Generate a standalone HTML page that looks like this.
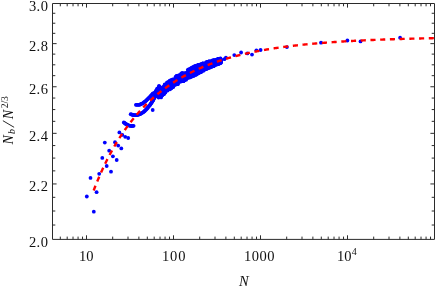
<!DOCTYPE html>
<html><head><meta charset="utf-8"><title>plot</title>
<style>html,body{margin:0;padding:0;background:#fff;width:436px;height:287px;overflow:hidden;font-family:"Liberation Serif",serif}</style>
</head><body>
<svg width="436" height="287" viewBox="0 0 436 287" style="position:absolute;left:0;top:0;will-change:transform">
<rect width="436" height="287" fill="#fff"/>
<g fill="#0000ff"><circle cx="86.8" cy="196.5" r="1.9"/><circle cx="93.8" cy="211.7" r="1.9"/><circle cx="90.5" cy="177.9" r="1.9"/><circle cx="96.6" cy="192.2" r="1.9"/><circle cx="99.2" cy="173.8" r="1.9"/><circle cx="102.3" cy="157.9" r="1.9"/><circle cx="106.7" cy="166.0" r="1.9"/><circle cx="111.0" cy="171.7" r="1.9"/><circle cx="109.2" cy="150.7" r="1.9"/><circle cx="112.9" cy="156.3" r="1.9"/><circle cx="116.7" cy="160.0" r="1.9"/><circle cx="104.8" cy="142.6" r="1.9"/><circle cx="115.0" cy="142.2" r="1.9"/><circle cx="118.2" cy="145.6" r="1.9"/><circle cx="121.3" cy="148.4" r="1.9"/><circle cx="119.4" cy="132.4" r="1.9"/><circle cx="122.3" cy="134.9" r="1.9"/><circle cx="125.2" cy="136.8" r="1.9"/><circle cx="128.2" cy="138.0" r="1.9"/><circle cx="152.7" cy="110.0" r="1.9"/><circle cx="135.9" cy="104.8" r="1.9"/><circle cx="136.8" cy="104.8" r="1.9"/><circle cx="137.7" cy="104.8" r="1.9"/><circle cx="138.6" cy="104.8" r="1.9"/><circle cx="139.5" cy="104.8" r="1.9"/><circle cx="140.3" cy="104.4" r="1.9"/><circle cx="141.1" cy="104.0" r="1.9"/><circle cx="142.0" cy="103.6" r="1.9"/><circle cx="142.8" cy="103.3" r="1.9"/><circle cx="143.5" cy="102.7" r="1.9"/><circle cx="144.2" cy="102.2" r="1.9"/><circle cx="144.9" cy="101.6" r="1.9"/><circle cx="145.6" cy="101.1" r="1.9"/><circle cx="146.3" cy="100.5" r="1.9"/><circle cx="146.9" cy="99.8" r="1.9"/><circle cx="147.6" cy="99.2" r="1.9"/><circle cx="148.2" cy="98.6" r="1.9"/><circle cx="148.8" cy="97.9" r="1.9"/><circle cx="149.5" cy="97.3" r="1.9"/><circle cx="150.1" cy="96.6" r="1.9"/><circle cx="150.7" cy="96.0" r="1.9"/><circle cx="151.4" cy="95.3" r="1.9"/><circle cx="151.9" cy="94.7" r="1.9"/><circle cx="152.5" cy="94.0" r="1.9"/><circle cx="153.1" cy="93.3" r="1.9"/><circle cx="130.7" cy="114.2" r="1.9"/><circle cx="131.6" cy="114.5" r="1.9"/><circle cx="132.4" cy="114.8" r="1.9"/><circle cx="133.3" cy="115.0" r="1.9"/><circle cx="134.2" cy="115.2" r="1.9"/><circle cx="135.1" cy="115.2" r="1.9"/><circle cx="136.0" cy="115.2" r="1.9"/><circle cx="136.9" cy="115.2" r="1.9"/><circle cx="137.7" cy="114.9" r="1.9"/><circle cx="138.6" cy="114.6" r="1.9"/><circle cx="139.4" cy="114.3" r="1.9"/><circle cx="140.3" cy="114.0" r="1.9"/><circle cx="141.0" cy="113.6" r="1.9"/><circle cx="141.8" cy="113.1" r="1.9"/><circle cx="142.6" cy="112.6" r="1.9"/><circle cx="143.3" cy="112.2" r="1.9"/><circle cx="144.0" cy="111.6" r="1.9"/><circle cx="144.7" cy="111.0" r="1.9"/><circle cx="145.3" cy="110.3" r="1.9"/><circle cx="145.9" cy="109.7" r="1.9"/><circle cx="146.6" cy="109.0" r="1.9"/><circle cx="147.2" cy="108.4" r="1.9"/><circle cx="147.7" cy="107.7" r="1.9"/><circle cx="148.3" cy="107.0" r="1.9"/><circle cx="148.9" cy="106.3" r="1.9"/><circle cx="149.5" cy="105.6" r="1.9"/><circle cx="150.0" cy="104.9" r="1.9"/><circle cx="150.5" cy="104.2" r="1.9"/><circle cx="151.0" cy="103.4" r="1.9"/><circle cx="151.5" cy="102.7" r="1.9"/><circle cx="152.1" cy="101.9" r="1.9"/><circle cx="152.5" cy="101.2" r="1.9"/><circle cx="153.0" cy="100.4" r="1.9"/><circle cx="153.4" cy="99.6" r="1.9"/><circle cx="153.9" cy="98.8" r="1.9"/><circle cx="154.3" cy="98.1" r="1.9"/><circle cx="154.7" cy="97.2" r="1.9"/><circle cx="155.1" cy="96.4" r="1.9"/><circle cx="155.5" cy="95.6" r="1.9"/><circle cx="123.8" cy="122.4" r="1.9"/><circle cx="124.5" cy="122.9" r="1.9"/><circle cx="125.2" cy="123.5" r="1.9"/><circle cx="125.9" cy="124.0" r="1.9"/><circle cx="126.7" cy="124.5" r="1.9"/><circle cx="127.5" cy="124.9" r="1.9"/><circle cx="128.3" cy="125.2" r="1.9"/><circle cx="129.2" cy="125.6" r="1.9"/><circle cx="130.1" cy="125.8" r="1.9"/><circle cx="130.9" cy="125.9" r="1.9"/><circle cx="131.8" cy="126.1" r="1.9"/><circle cx="132.7" cy="125.9" r="1.9"/><circle cx="133.6" cy="125.8" r="1.9"/><circle cx="158.6" cy="93.7" r="1.9"/><circle cx="158.0" cy="90.8" r="1.9"/><circle cx="155.0" cy="92.6" r="1.9"/><circle cx="162.1" cy="94.8" r="1.9"/><circle cx="157.1" cy="88.8" r="1.9"/><circle cx="161.6" cy="92.2" r="1.9"/><circle cx="157.8" cy="95.2" r="1.9"/><circle cx="161.6" cy="92.2" r="1.9"/><circle cx="155.9" cy="94.6" r="1.9"/><circle cx="162.5" cy="91.7" r="1.9"/><circle cx="160.4" cy="89.3" r="1.9"/><circle cx="156.6" cy="93.4" r="1.9"/><circle cx="157.8" cy="89.3" r="1.9"/><circle cx="162.7" cy="94.2" r="1.9"/><circle cx="160.8" cy="94.7" r="1.9"/><circle cx="157.0" cy="93.9" r="1.9"/><circle cx="160.3" cy="89.4" r="1.9"/><circle cx="158.4" cy="92.5" r="1.9"/><circle cx="161.9" cy="90.0" r="1.9"/><circle cx="162.5" cy="95.0" r="1.9"/><circle cx="161.8" cy="95.5" r="1.9"/><circle cx="160.8" cy="93.4" r="1.9"/><circle cx="155.3" cy="94.2" r="1.9"/><circle cx="157.0" cy="90.3" r="1.9"/><circle cx="156.8" cy="91.8" r="1.9"/><circle cx="160.9" cy="91.9" r="1.9"/><circle cx="163.1" cy="88.6" r="1.9"/><circle cx="157.1" cy="93.5" r="1.9"/><circle cx="156.2" cy="92.9" r="1.9"/><circle cx="160.5" cy="94.9" r="1.9"/><circle cx="159.4" cy="95.9" r="1.9"/><circle cx="158.0" cy="88.4" r="1.9"/><circle cx="161.7" cy="90.9" r="1.9"/><circle cx="159.0" cy="92.8" r="1.9"/><circle cx="158.4" cy="91.6" r="1.9"/><circle cx="159.7" cy="89.4" r="1.9"/><circle cx="159.5" cy="87.7" r="1.9"/><circle cx="161.6" cy="91.3" r="1.9"/><circle cx="159.1" cy="86.6" r="1.9"/><circle cx="159.6" cy="93.8" r="1.9"/><circle cx="155.8" cy="93.5" r="1.9"/><circle cx="162.2" cy="90.5" r="1.9"/><circle cx="158.7" cy="96.0" r="1.9"/><circle cx="160.4" cy="88.8" r="1.9"/><circle cx="162.8" cy="87.3" r="1.9"/><circle cx="156.5" cy="94.5" r="1.9"/><circle cx="161.1" cy="88.0" r="1.9"/><circle cx="161.3" cy="91.8" r="1.9"/><circle cx="160.2" cy="92.2" r="1.9"/><circle cx="163.3" cy="89.2" r="1.9"/><circle cx="162.5" cy="87.8" r="1.9"/><circle cx="159.5" cy="86.7" r="1.9"/><circle cx="160.5" cy="89.6" r="1.9"/><circle cx="155.8" cy="90.8" r="1.9"/><circle cx="158.9" cy="87.3" r="1.9"/><circle cx="157.5" cy="93.0" r="1.9"/><circle cx="158.0" cy="90.0" r="1.9"/><circle cx="162.1" cy="90.2" r="1.9"/><circle cx="160.1" cy="92.0" r="1.9"/><circle cx="158.3" cy="88.0" r="1.9"/><circle cx="157.0" cy="92.7" r="1.9"/><circle cx="157.2" cy="88.9" r="1.9"/><circle cx="162.9" cy="91.5" r="1.9"/><circle cx="159.0" cy="94.3" r="1.9"/><circle cx="158.9" cy="88.7" r="1.9"/><circle cx="163.1" cy="87.1" r="1.9"/><circle cx="156.3" cy="90.8" r="1.9"/><circle cx="157.1" cy="91.4" r="1.9"/><circle cx="162.1" cy="91.7" r="1.9"/><circle cx="159.2" cy="89.6" r="1.9"/><circle cx="154.2" cy="92.8" r="1.9"/><circle cx="159.0" cy="86.0" r="1.9"/><circle cx="163.5" cy="86.8" r="1.9"/><circle cx="164.0" cy="94.2" r="1.9"/><circle cx="161.0" cy="96.0" r="1.9"/><circle cx="156.5" cy="96.0" r="1.9"/><circle cx="160.3" cy="94.2" r="1.9"/><circle cx="159.8" cy="91.5" r="1.9"/><circle cx="160.2" cy="94.1" r="1.9"/><circle cx="160.8" cy="88.9" r="1.9"/><circle cx="160.3" cy="89.2" r="1.9"/><circle cx="160.5" cy="90.1" r="1.9"/><circle cx="160.8" cy="94.4" r="1.9"/><circle cx="160.8" cy="92.0" r="1.9"/><circle cx="160.9" cy="95.1" r="1.9"/><circle cx="161.4" cy="94.3" r="1.9"/><circle cx="161.5" cy="91.3" r="1.9"/><circle cx="161.5" cy="90.6" r="1.9"/><circle cx="162.1" cy="88.5" r="1.9"/><circle cx="161.9" cy="91.7" r="1.9"/><circle cx="162.3" cy="91.2" r="1.9"/><circle cx="162.6" cy="89.0" r="1.9"/><circle cx="162.4" cy="94.7" r="1.9"/><circle cx="162.5" cy="88.2" r="1.9"/><circle cx="163.3" cy="89.2" r="1.9"/><circle cx="163.2" cy="94.1" r="1.9"/><circle cx="163.2" cy="94.3" r="1.9"/><circle cx="163.3" cy="88.4" r="1.9"/><circle cx="163.8" cy="92.4" r="1.9"/><circle cx="163.7" cy="89.3" r="1.9"/><circle cx="164.0" cy="92.4" r="1.9"/><circle cx="164.0" cy="90.4" r="1.9"/><circle cx="164.0" cy="92.2" r="1.9"/><circle cx="164.4" cy="90.1" r="1.9"/><circle cx="164.4" cy="87.6" r="1.9"/><circle cx="164.7" cy="84.4" r="1.9"/><circle cx="165.3" cy="87.7" r="1.9"/><circle cx="165.0" cy="90.5" r="1.9"/><circle cx="165.2" cy="89.6" r="1.9"/><circle cx="165.5" cy="88.2" r="1.9"/><circle cx="165.7" cy="87.7" r="1.9"/><circle cx="165.4" cy="92.5" r="1.9"/><circle cx="166.0" cy="88.3" r="1.9"/><circle cx="166.0" cy="85.8" r="1.9"/><circle cx="166.3" cy="84.6" r="1.9"/><circle cx="166.7" cy="84.8" r="1.9"/><circle cx="166.3" cy="87.8" r="1.9"/><circle cx="166.7" cy="87.6" r="1.9"/><circle cx="167.0" cy="83.0" r="1.9"/><circle cx="166.7" cy="89.5" r="1.9"/><circle cx="166.7" cy="88.7" r="1.9"/><circle cx="167.2" cy="90.0" r="1.9"/><circle cx="167.2" cy="86.2" r="1.9"/><circle cx="167.2" cy="82.4" r="1.9"/><circle cx="168.0" cy="83.4" r="1.9"/><circle cx="167.8" cy="87.0" r="1.9"/><circle cx="167.6" cy="90.6" r="1.9"/><circle cx="168.5" cy="81.8" r="1.9"/><circle cx="168.5" cy="86.5" r="1.9"/><circle cx="168.0" cy="83.5" r="1.9"/><circle cx="168.7" cy="87.4" r="1.9"/><circle cx="168.9" cy="86.3" r="1.9"/><circle cx="168.7" cy="88.0" r="1.9"/><circle cx="169.1" cy="84.8" r="1.9"/><circle cx="169.2" cy="83.3" r="1.9"/><circle cx="169.0" cy="84.3" r="1.9"/><circle cx="169.7" cy="84.8" r="1.9"/><circle cx="169.5" cy="88.8" r="1.9"/><circle cx="169.6" cy="82.0" r="1.9"/><circle cx="169.8" cy="86.7" r="1.9"/><circle cx="170.0" cy="89.3" r="1.9"/><circle cx="169.7" cy="80.6" r="1.9"/><circle cx="170.4" cy="84.2" r="1.9"/><circle cx="170.6" cy="81.0" r="1.9"/><circle cx="170.3" cy="88.3" r="1.9"/><circle cx="170.6" cy="85.3" r="1.9"/><circle cx="171.0" cy="88.2" r="1.9"/><circle cx="170.6" cy="80.7" r="1.9"/><circle cx="171.3" cy="87.0" r="1.9"/><circle cx="171.4" cy="86.4" r="1.9"/><circle cx="171.2" cy="80.2" r="1.9"/><circle cx="171.3" cy="88.3" r="1.9"/><circle cx="171.5" cy="83.9" r="1.9"/><circle cx="171.3" cy="83.3" r="1.9"/><circle cx="172.0" cy="87.3" r="1.9"/><circle cx="171.9" cy="79.9" r="1.9"/><circle cx="171.9" cy="84.6" r="1.9"/><circle cx="172.5" cy="85.4" r="1.9"/><circle cx="172.5" cy="83.9" r="1.9"/><circle cx="172.5" cy="84.8" r="1.9"/><circle cx="172.6" cy="80.8" r="1.9"/><circle cx="172.7" cy="79.4" r="1.9"/><circle cx="172.5" cy="86.2" r="1.9"/><circle cx="173.0" cy="81.8" r="1.9"/><circle cx="173.3" cy="87.0" r="1.9"/><circle cx="173.0" cy="83.7" r="1.9"/><circle cx="173.3" cy="82.4" r="1.9"/><circle cx="173.3" cy="84.3" r="1.9"/><circle cx="173.2" cy="86.2" r="1.9"/><circle cx="173.7" cy="81.7" r="1.9"/><circle cx="173.7" cy="83.8" r="1.9"/><circle cx="173.6" cy="83.7" r="1.9"/><circle cx="174.0" cy="85.3" r="1.9"/><circle cx="174.3" cy="83.8" r="1.9"/><circle cx="174.0" cy="83.0" r="1.9"/><circle cx="174.4" cy="79.1" r="1.9"/><circle cx="174.3" cy="83.7" r="1.9"/><circle cx="174.4" cy="82.1" r="1.9"/><circle cx="174.8" cy="83.2" r="1.9"/><circle cx="174.8" cy="80.3" r="1.9"/><circle cx="174.9" cy="84.7" r="1.9"/><circle cx="175.3" cy="80.9" r="1.9"/><circle cx="175.3" cy="81.3" r="1.9"/><circle cx="175.5" cy="77.1" r="1.9"/><circle cx="175.5" cy="81.3" r="1.9"/><circle cx="175.9" cy="77.3" r="1.9"/><circle cx="176.0" cy="78.2" r="1.9"/><circle cx="175.9" cy="82.7" r="1.9"/><circle cx="175.8" cy="84.5" r="1.9"/><circle cx="175.9" cy="82.8" r="1.9"/><circle cx="176.3" cy="76.4" r="1.9"/><circle cx="176.3" cy="78.1" r="1.9"/><circle cx="176.3" cy="76.4" r="1.9"/><circle cx="176.6" cy="76.2" r="1.9"/><circle cx="177.0" cy="82.0" r="1.9"/><circle cx="176.6" cy="79.7" r="1.9"/><circle cx="177.1" cy="84.2" r="1.9"/><circle cx="176.9" cy="76.0" r="1.9"/><circle cx="177.3" cy="79.6" r="1.9"/><circle cx="177.6" cy="77.5" r="1.9"/><circle cx="177.7" cy="83.7" r="1.9"/><circle cx="177.4" cy="79.1" r="1.9"/><circle cx="177.7" cy="80.1" r="1.9"/><circle cx="178.1" cy="82.7" r="1.9"/><circle cx="177.8" cy="78.6" r="1.9"/><circle cx="178.0" cy="80.8" r="1.9"/><circle cx="178.0" cy="84.1" r="1.9"/><circle cx="178.2" cy="79.7" r="1.9"/><circle cx="178.7" cy="78.6" r="1.9"/><circle cx="178.6" cy="75.3" r="1.9"/><circle cx="178.5" cy="75.8" r="1.9"/><circle cx="178.8" cy="77.0" r="1.9"/><circle cx="179.0" cy="79.1" r="1.9"/><circle cx="179.0" cy="79.7" r="1.9"/><circle cx="179.2" cy="78.5" r="1.9"/><circle cx="179.1" cy="75.5" r="1.9"/><circle cx="179.1" cy="79.8" r="1.9"/><circle cx="179.2" cy="77.9" r="1.9"/><circle cx="179.3" cy="79.0" r="1.9"/><circle cx="179.6" cy="77.2" r="1.9"/><circle cx="180.0" cy="78.3" r="1.9"/><circle cx="179.8" cy="81.1" r="1.9"/><circle cx="179.6" cy="78.1" r="1.9"/><circle cx="180.3" cy="77.4" r="1.9"/><circle cx="180.4" cy="79.9" r="1.9"/><circle cx="180.2" cy="79.2" r="1.9"/><circle cx="180.7" cy="81.6" r="1.9"/><circle cx="180.4" cy="79.5" r="1.9"/><circle cx="180.1" cy="80.2" r="1.9"/><circle cx="180.6" cy="75.2" r="1.9"/><circle cx="180.4" cy="81.5" r="1.9"/><circle cx="180.6" cy="76.9" r="1.9"/><circle cx="181.2" cy="80.9" r="1.9"/><circle cx="181.0" cy="74.6" r="1.9"/><circle cx="181.0" cy="77.3" r="1.9"/><circle cx="181.2" cy="81.0" r="1.9"/><circle cx="181.4" cy="78.3" r="1.9"/><circle cx="181.2" cy="77.5" r="1.9"/><circle cx="181.3" cy="73.3" r="1.9"/><circle cx="181.7" cy="80.3" r="1.9"/><circle cx="181.4" cy="78.5" r="1.9"/><circle cx="181.9" cy="80.2" r="1.9"/><circle cx="181.8" cy="76.1" r="1.9"/><circle cx="182.2" cy="76.2" r="1.9"/><circle cx="182.5" cy="78.5" r="1.9"/><circle cx="182.0" cy="78.7" r="1.9"/><circle cx="182.5" cy="81.2" r="1.9"/><circle cx="182.4" cy="72.8" r="1.9"/><circle cx="182.2" cy="79.1" r="1.9"/><circle cx="182.8" cy="75.7" r="1.9"/><circle cx="182.7" cy="76.3" r="1.9"/><circle cx="182.6" cy="76.8" r="1.9"/><circle cx="182.7" cy="77.4" r="1.9"/><circle cx="183.0" cy="75.3" r="1.9"/><circle cx="183.3" cy="75.8" r="1.9"/><circle cx="183.0" cy="80.7" r="1.9"/><circle cx="183.4" cy="81.1" r="1.9"/><circle cx="183.5" cy="77.3" r="1.9"/><circle cx="183.5" cy="81.1" r="1.9"/><circle cx="183.5" cy="76.5" r="1.9"/><circle cx="183.5" cy="80.9" r="1.9"/><circle cx="183.8" cy="75.0" r="1.9"/><circle cx="184.3" cy="74.0" r="1.9"/><circle cx="183.9" cy="77.7" r="1.9"/><circle cx="184.2" cy="79.9" r="1.9"/><circle cx="184.5" cy="73.1" r="1.9"/><circle cx="184.3" cy="74.4" r="1.9"/><circle cx="184.3" cy="76.4" r="1.9"/><circle cx="184.5" cy="74.9" r="1.9"/><circle cx="184.6" cy="77.4" r="1.9"/><circle cx="184.8" cy="75.4" r="1.9"/><circle cx="184.6" cy="76.2" r="1.9"/><circle cx="184.7" cy="78.1" r="1.9"/><circle cx="184.8" cy="80.3" r="1.9"/><circle cx="185.1" cy="76.4" r="1.9"/><circle cx="185.0" cy="77.4" r="1.9"/><circle cx="185.2" cy="78.6" r="1.9"/><circle cx="185.6" cy="74.4" r="1.9"/><circle cx="185.6" cy="77.6" r="1.9"/><circle cx="185.4" cy="77.0" r="1.9"/><circle cx="185.6" cy="74.2" r="1.9"/><circle cx="185.9" cy="76.0" r="1.9"/><circle cx="185.7" cy="74.7" r="1.9"/><circle cx="185.9" cy="73.5" r="1.9"/><circle cx="186.0" cy="76.8" r="1.9"/><circle cx="186.2" cy="79.7" r="1.9"/><circle cx="186.4" cy="74.7" r="1.9"/><circle cx="186.2" cy="76.1" r="1.9"/><circle cx="186.2" cy="73.0" r="1.9"/><circle cx="186.8" cy="75.7" r="1.9"/><circle cx="186.3" cy="74.7" r="1.9"/><circle cx="186.8" cy="76.8" r="1.9"/><circle cx="186.5" cy="76.7" r="1.9"/><circle cx="186.8" cy="74.9" r="1.9"/><circle cx="186.7" cy="76.7" r="1.9"/><circle cx="186.8" cy="74.7" r="1.9"/><circle cx="187.2" cy="76.7" r="1.9"/><circle cx="186.9" cy="75.7" r="1.9"/><circle cx="187.3" cy="76.5" r="1.9"/><circle cx="187.4" cy="76.5" r="1.9"/><circle cx="187.4" cy="76.4" r="1.9"/><circle cx="187.6" cy="73.9" r="1.9"/><circle cx="187.3" cy="76.0" r="1.9"/><circle cx="187.8" cy="76.7" r="1.9"/><circle cx="187.9" cy="72.3" r="1.9"/><circle cx="187.8" cy="76.2" r="1.9"/><circle cx="188.0" cy="77.6" r="1.9"/><circle cx="188.3" cy="70.1" r="1.9"/><circle cx="187.8" cy="69.8" r="1.9"/><circle cx="187.8" cy="77.8" r="1.9"/><circle cx="188.3" cy="71.8" r="1.9"/><circle cx="188.1" cy="75.6" r="1.9"/><circle cx="188.5" cy="72.4" r="1.9"/><circle cx="188.5" cy="75.6" r="1.9"/><circle cx="188.8" cy="71.9" r="1.9"/><circle cx="188.6" cy="77.4" r="1.9"/><circle cx="188.7" cy="69.5" r="1.9"/><circle cx="188.9" cy="69.4" r="1.9"/><circle cx="189.1" cy="72.9" r="1.9"/><circle cx="188.9" cy="72.8" r="1.9"/><circle cx="189.0" cy="71.2" r="1.9"/><circle cx="189.0" cy="74.2" r="1.9"/><circle cx="189.5" cy="76.1" r="1.9"/><circle cx="189.5" cy="71.3" r="1.9"/><circle cx="189.3" cy="77.7" r="1.9"/><circle cx="189.5" cy="74.6" r="1.9"/><circle cx="189.3" cy="72.3" r="1.9"/><circle cx="189.8" cy="76.7" r="1.9"/><circle cx="189.6" cy="74.2" r="1.9"/><circle cx="190.0" cy="71.9" r="1.9"/><circle cx="189.9" cy="74.8" r="1.9"/><circle cx="190.3" cy="73.6" r="1.9"/><circle cx="190.0" cy="75.9" r="1.9"/><circle cx="190.3" cy="73.1" r="1.9"/><circle cx="190.0" cy="74.8" r="1.9"/><circle cx="190.2" cy="73.6" r="1.9"/><circle cx="190.3" cy="72.3" r="1.9"/><circle cx="190.5" cy="74.2" r="1.9"/><circle cx="190.8" cy="68.5" r="1.9"/><circle cx="190.4" cy="72.4" r="1.9"/><circle cx="191.0" cy="73.4" r="1.9"/><circle cx="190.8" cy="72.7" r="1.9"/><circle cx="190.9" cy="77.2" r="1.9"/><circle cx="190.8" cy="73.7" r="1.9"/><circle cx="191.0" cy="68.3" r="1.9"/><circle cx="191.0" cy="71.5" r="1.9"/><circle cx="191.4" cy="70.4" r="1.9"/><circle cx="191.5" cy="71.5" r="1.9"/><circle cx="191.2" cy="68.9" r="1.9"/><circle cx="191.3" cy="75.0" r="1.9"/><circle cx="191.6" cy="76.0" r="1.9"/><circle cx="191.5" cy="68.8" r="1.9"/><circle cx="191.9" cy="71.6" r="1.9"/><circle cx="191.6" cy="69.4" r="1.9"/><circle cx="191.6" cy="68.0" r="1.9"/><circle cx="191.9" cy="70.5" r="1.9"/><circle cx="192.2" cy="75.7" r="1.9"/><circle cx="191.8" cy="72.0" r="1.9"/><circle cx="192.3" cy="70.1" r="1.9"/><circle cx="192.3" cy="68.8" r="1.9"/><circle cx="192.0" cy="69.8" r="1.9"/><circle cx="192.7" cy="73.9" r="1.9"/><circle cx="192.2" cy="75.9" r="1.9"/><circle cx="192.5" cy="73.3" r="1.9"/><circle cx="192.6" cy="71.5" r="1.9"/><circle cx="192.9" cy="67.5" r="1.9"/><circle cx="192.5" cy="75.5" r="1.9"/><circle cx="192.9" cy="69.6" r="1.9"/><circle cx="192.8" cy="70.6" r="1.9"/><circle cx="193.2" cy="73.2" r="1.9"/><circle cx="192.9" cy="67.2" r="1.9"/><circle cx="193.3" cy="75.3" r="1.9"/><circle cx="193.0" cy="73.4" r="1.9"/><circle cx="193.5" cy="74.6" r="1.9"/><circle cx="193.1" cy="72.6" r="1.9"/><circle cx="193.1" cy="75.9" r="1.9"/><circle cx="193.7" cy="69.1" r="1.9"/><circle cx="193.5" cy="72.5" r="1.9"/><circle cx="193.7" cy="71.9" r="1.9"/><circle cx="194.1" cy="68.4" r="1.9"/><circle cx="193.8" cy="69.6" r="1.9"/><circle cx="193.8" cy="67.4" r="1.9"/><circle cx="193.7" cy="69.2" r="1.9"/><circle cx="194.0" cy="68.1" r="1.9"/><circle cx="193.9" cy="71.8" r="1.9"/><circle cx="194.1" cy="75.5" r="1.9"/><circle cx="194.5" cy="73.8" r="1.9"/><circle cx="194.0" cy="75.5" r="1.9"/><circle cx="194.2" cy="68.6" r="1.9"/><circle cx="194.3" cy="66.6" r="1.9"/><circle cx="194.2" cy="72.9" r="1.9"/><circle cx="194.5" cy="67.9" r="1.9"/><circle cx="194.4" cy="66.5" r="1.9"/><circle cx="194.9" cy="66.5" r="1.9"/><circle cx="195.0" cy="72.0" r="1.9"/><circle cx="194.8" cy="72.3" r="1.9"/><circle cx="195.0" cy="73.4" r="1.9"/><circle cx="195.3" cy="72.0" r="1.9"/><circle cx="195.3" cy="72.7" r="1.9"/><circle cx="195.3" cy="73.1" r="1.9"/><circle cx="195.0" cy="70.8" r="1.9"/><circle cx="195.2" cy="66.2" r="1.9"/><circle cx="195.3" cy="67.3" r="1.9"/><circle cx="195.4" cy="72.1" r="1.9"/><circle cx="195.6" cy="68.7" r="1.9"/><circle cx="195.5" cy="67.1" r="1.9"/><circle cx="195.8" cy="74.4" r="1.9"/><circle cx="195.8" cy="69.6" r="1.9"/><circle cx="195.8" cy="68.0" r="1.9"/><circle cx="196.1" cy="69.5" r="1.9"/><circle cx="196.1" cy="69.3" r="1.9"/><circle cx="196.0" cy="74.6" r="1.9"/><circle cx="195.9" cy="74.5" r="1.9"/><circle cx="195.8" cy="71.5" r="1.9"/><circle cx="196.3" cy="74.5" r="1.9"/><circle cx="196.1" cy="70.9" r="1.9"/><circle cx="196.2" cy="72.5" r="1.9"/><circle cx="196.4" cy="71.9" r="1.9"/><circle cx="196.7" cy="67.0" r="1.9"/><circle cx="196.6" cy="69.3" r="1.9"/><circle cx="196.3" cy="65.7" r="1.9"/><circle cx="197.0" cy="69.5" r="1.9"/><circle cx="196.5" cy="68.6" r="1.9"/><circle cx="196.8" cy="69.6" r="1.9"/><circle cx="196.8" cy="66.2" r="1.9"/><circle cx="197.2" cy="72.5" r="1.9"/><circle cx="197.2" cy="69.5" r="1.9"/><circle cx="196.9" cy="67.8" r="1.9"/><circle cx="197.0" cy="65.9" r="1.9"/><circle cx="197.1" cy="71.4" r="1.9"/><circle cx="197.5" cy="68.0" r="1.9"/><circle cx="197.6" cy="73.8" r="1.9"/><circle cx="197.2" cy="69.8" r="1.9"/><circle cx="197.6" cy="71.8" r="1.9"/><circle cx="197.4" cy="68.9" r="1.9"/><circle cx="197.8" cy="67.8" r="1.9"/><circle cx="197.6" cy="65.3" r="1.9"/><circle cx="197.8" cy="72.4" r="1.9"/><circle cx="197.8" cy="72.4" r="1.9"/><circle cx="198.2" cy="69.6" r="1.9"/><circle cx="197.9" cy="69.7" r="1.9"/><circle cx="197.8" cy="68.0" r="1.9"/><circle cx="198.1" cy="69.6" r="1.9"/><circle cx="198.4" cy="69.3" r="1.9"/><circle cx="197.9" cy="65.1" r="1.9"/><circle cx="198.1" cy="71.0" r="1.9"/><circle cx="198.1" cy="67.0" r="1.9"/><circle cx="198.2" cy="65.6" r="1.9"/><circle cx="198.3" cy="68.1" r="1.9"/><circle cx="198.6" cy="65.4" r="1.9"/><circle cx="198.4" cy="73.2" r="1.9"/><circle cx="198.6" cy="68.2" r="1.9"/><circle cx="198.6" cy="64.9" r="1.9"/><circle cx="198.5" cy="66.6" r="1.9"/><circle cx="198.9" cy="64.9" r="1.9"/><circle cx="199.1" cy="68.9" r="1.9"/><circle cx="198.7" cy="68.6" r="1.9"/><circle cx="199.0" cy="69.8" r="1.9"/><circle cx="198.9" cy="66.6" r="1.9"/><circle cx="199.3" cy="67.6" r="1.9"/><circle cx="199.2" cy="71.0" r="1.9"/><circle cx="199.3" cy="69.1" r="1.9"/><circle cx="199.3" cy="72.8" r="1.9"/><circle cx="199.4" cy="69.7" r="1.9"/><circle cx="199.5" cy="70.3" r="1.9"/><circle cx="199.5" cy="68.9" r="1.9"/><circle cx="199.6" cy="70.0" r="1.9"/><circle cx="199.9" cy="68.0" r="1.9"/><circle cx="199.7" cy="67.7" r="1.9"/><circle cx="199.8" cy="70.7" r="1.9"/><circle cx="200.0" cy="69.5" r="1.9"/><circle cx="199.9" cy="70.4" r="1.9"/><circle cx="200.3" cy="72.0" r="1.9"/><circle cx="199.9" cy="70.6" r="1.9"/><circle cx="200.2" cy="67.2" r="1.9"/><circle cx="200.5" cy="66.0" r="1.9"/><circle cx="200.4" cy="71.4" r="1.9"/><circle cx="200.4" cy="64.4" r="1.9"/><circle cx="200.5" cy="68.6" r="1.9"/><circle cx="200.2" cy="72.0" r="1.9"/><circle cx="200.4" cy="67.4" r="1.9"/><circle cx="200.4" cy="68.2" r="1.9"/><circle cx="200.4" cy="69.9" r="1.9"/><circle cx="200.7" cy="68.6" r="1.9"/><circle cx="201.0" cy="72.0" r="1.9"/><circle cx="201.1" cy="66.5" r="1.9"/><circle cx="201.1" cy="68.3" r="1.9"/><circle cx="200.9" cy="69.6" r="1.9"/><circle cx="201.2" cy="68.6" r="1.9"/><circle cx="200.8" cy="71.9" r="1.9"/><circle cx="201.3" cy="69.4" r="1.9"/><circle cx="201.0" cy="69.0" r="1.9"/><circle cx="201.0" cy="70.5" r="1.9"/><circle cx="201.6" cy="69.0" r="1.9"/><circle cx="201.4" cy="65.7" r="1.9"/><circle cx="201.1" cy="66.6" r="1.9"/><circle cx="201.8" cy="64.5" r="1.9"/><circle cx="201.4" cy="71.6" r="1.9"/><circle cx="201.5" cy="66.8" r="1.9"/><circle cx="201.8" cy="67.7" r="1.9"/><circle cx="201.9" cy="66.5" r="1.9"/><circle cx="201.7" cy="65.3" r="1.9"/><circle cx="201.6" cy="66.2" r="1.9"/><circle cx="202.1" cy="66.6" r="1.9"/><circle cx="201.6" cy="63.8" r="1.9"/><circle cx="202.2" cy="66.8" r="1.9"/><circle cx="202.0" cy="66.7" r="1.9"/><circle cx="202.3" cy="69.5" r="1.9"/><circle cx="202.2" cy="65.7" r="1.9"/><circle cx="202.3" cy="64.0" r="1.9"/><circle cx="202.4" cy="69.1" r="1.9"/><circle cx="202.3" cy="67.0" r="1.9"/><circle cx="202.5" cy="65.7" r="1.9"/><circle cx="202.2" cy="70.4" r="1.9"/><circle cx="202.6" cy="70.4" r="1.9"/><circle cx="202.7" cy="65.1" r="1.9"/><circle cx="202.6" cy="63.6" r="1.9"/><circle cx="202.9" cy="70.6" r="1.9"/><circle cx="202.8" cy="66.9" r="1.9"/><circle cx="202.7" cy="68.2" r="1.9"/><circle cx="203.0" cy="69.4" r="1.9"/><circle cx="203.0" cy="66.0" r="1.9"/><circle cx="203.1" cy="63.5" r="1.9"/><circle cx="202.9" cy="63.4" r="1.9"/><circle cx="203.0" cy="68.1" r="1.9"/><circle cx="203.0" cy="65.1" r="1.9"/><circle cx="203.5" cy="70.7" r="1.9"/><circle cx="203.2" cy="64.9" r="1.9"/><circle cx="203.0" cy="66.5" r="1.9"/><circle cx="203.6" cy="64.8" r="1.9"/><circle cx="203.7" cy="70.3" r="1.9"/><circle cx="203.7" cy="67.8" r="1.9"/><circle cx="203.6" cy="65.4" r="1.9"/><circle cx="203.9" cy="66.1" r="1.9"/><circle cx="203.5" cy="67.6" r="1.9"/><circle cx="203.9" cy="68.9" r="1.9"/><circle cx="203.5" cy="65.8" r="1.9"/><circle cx="203.5" cy="66.2" r="1.9"/><circle cx="203.9" cy="67.1" r="1.9"/><circle cx="204.2" cy="68.6" r="1.9"/><circle cx="204.1" cy="64.4" r="1.9"/><circle cx="204.1" cy="67.2" r="1.9"/><circle cx="203.9" cy="67.6" r="1.9"/><circle cx="204.4" cy="66.9" r="1.9"/><circle cx="204.2" cy="69.0" r="1.9"/><circle cx="204.0" cy="65.3" r="1.9"/><circle cx="204.5" cy="68.2" r="1.9"/><circle cx="204.6" cy="69.6" r="1.9"/><circle cx="204.7" cy="66.2" r="1.9"/><circle cx="204.4" cy="67.5" r="1.9"/><circle cx="204.9" cy="65.2" r="1.9"/><circle cx="204.7" cy="66.5" r="1.9"/><circle cx="204.5" cy="65.0" r="1.9"/><circle cx="204.7" cy="66.0" r="1.9"/><circle cx="204.7" cy="69.0" r="1.9"/><circle cx="204.7" cy="67.6" r="1.9"/><circle cx="205.1" cy="67.7" r="1.9"/><circle cx="204.9" cy="65.1" r="1.9"/><circle cx="204.8" cy="65.4" r="1.9"/><circle cx="205.3" cy="65.6" r="1.9"/><circle cx="205.0" cy="66.4" r="1.9"/><circle cx="205.3" cy="66.8" r="1.9"/><circle cx="205.3" cy="68.7" r="1.9"/><circle cx="205.4" cy="67.1" r="1.9"/><circle cx="205.0" cy="65.2" r="1.9"/><circle cx="205.7" cy="65.1" r="1.9"/><circle cx="205.7" cy="63.8" r="1.9"/><circle cx="205.5" cy="66.2" r="1.9"/><circle cx="205.5" cy="66.3" r="1.9"/><circle cx="205.8" cy="64.3" r="1.9"/><circle cx="205.5" cy="66.7" r="1.9"/><circle cx="205.9" cy="69.2" r="1.9"/><circle cx="205.9" cy="65.8" r="1.9"/><circle cx="206.0" cy="69.0" r="1.9"/><circle cx="205.8" cy="67.9" r="1.9"/><circle cx="205.9" cy="62.5" r="1.9"/><circle cx="206.1" cy="64.6" r="1.9"/><circle cx="206.2" cy="65.1" r="1.9"/><circle cx="206.3" cy="67.6" r="1.9"/><circle cx="206.0" cy="66.5" r="1.9"/><circle cx="206.5" cy="66.4" r="1.9"/><circle cx="206.5" cy="62.4" r="1.9"/><circle cx="206.3" cy="65.6" r="1.9"/><circle cx="206.2" cy="66.8" r="1.9"/><circle cx="206.2" cy="68.9" r="1.9"/><circle cx="206.2" cy="65.1" r="1.9"/><circle cx="206.4" cy="63.5" r="1.9"/><circle cx="206.3" cy="64.6" r="1.9"/><circle cx="206.8" cy="63.5" r="1.9"/><circle cx="206.4" cy="64.9" r="1.9"/><circle cx="207.0" cy="63.8" r="1.9"/><circle cx="206.7" cy="67.6" r="1.9"/><circle cx="207.1" cy="62.8" r="1.9"/><circle cx="207.1" cy="65.4" r="1.9"/><circle cx="206.8" cy="66.7" r="1.9"/><circle cx="206.8" cy="66.8" r="1.9"/><circle cx="207.2" cy="65.6" r="1.9"/><circle cx="206.8" cy="64.7" r="1.9"/><circle cx="207.3" cy="62.8" r="1.9"/><circle cx="206.9" cy="62.1" r="1.9"/><circle cx="207.5" cy="62.1" r="1.9"/><circle cx="207.4" cy="68.1" r="1.9"/><circle cx="207.4" cy="63.5" r="1.9"/><circle cx="207.4" cy="65.2" r="1.9"/><circle cx="207.7" cy="66.5" r="1.9"/><circle cx="207.5" cy="64.6" r="1.9"/><circle cx="207.8" cy="63.7" r="1.9"/><circle cx="207.6" cy="63.2" r="1.9"/><circle cx="207.7" cy="62.9" r="1.9"/><circle cx="208.0" cy="65.9" r="1.9"/><circle cx="207.7" cy="64.8" r="1.9"/><circle cx="207.9" cy="67.0" r="1.9"/><circle cx="207.6" cy="68.4" r="1.9"/><circle cx="208.1" cy="65.9" r="1.9"/><circle cx="208.2" cy="64.4" r="1.9"/><circle cx="207.8" cy="61.9" r="1.9"/><circle cx="207.9" cy="64.4" r="1.9"/><circle cx="208.3" cy="66.1" r="1.9"/><circle cx="208.3" cy="61.8" r="1.9"/><circle cx="208.2" cy="62.5" r="1.9"/><circle cx="208.5" cy="61.8" r="1.9"/><circle cx="208.5" cy="64.9" r="1.9"/><circle cx="208.4" cy="64.6" r="1.9"/><circle cx="208.7" cy="61.7" r="1.9"/><circle cx="208.6" cy="65.9" r="1.9"/><circle cx="208.5" cy="62.8" r="1.9"/><circle cx="208.7" cy="64.5" r="1.9"/><circle cx="208.5" cy="64.7" r="1.9"/><circle cx="208.6" cy="61.7" r="1.9"/><circle cx="209.0" cy="63.6" r="1.9"/><circle cx="208.7" cy="66.5" r="1.9"/><circle cx="209.0" cy="65.5" r="1.9"/><circle cx="209.1" cy="64.4" r="1.9"/><circle cx="208.6" cy="65.3" r="1.9"/><circle cx="209.1" cy="61.6" r="1.9"/><circle cx="208.9" cy="67.5" r="1.9"/><circle cx="208.8" cy="67.6" r="1.9"/><circle cx="209.2" cy="66.6" r="1.9"/><circle cx="209.0" cy="61.5" r="1.9"/><circle cx="208.9" cy="65.8" r="1.9"/><circle cx="209.5" cy="64.1" r="1.9"/><circle cx="209.2" cy="67.8" r="1.9"/><circle cx="209.2" cy="63.8" r="1.9"/><circle cx="209.2" cy="65.4" r="1.9"/><circle cx="209.7" cy="61.4" r="1.9"/><circle cx="209.4" cy="63.1" r="1.9"/><circle cx="209.6" cy="65.0" r="1.9"/><circle cx="209.8" cy="62.1" r="1.9"/><circle cx="209.6" cy="66.7" r="1.9"/><circle cx="209.7" cy="62.6" r="1.9"/><circle cx="209.7" cy="62.4" r="1.9"/><circle cx="209.6" cy="65.0" r="1.9"/><circle cx="210.0" cy="61.7" r="1.9"/><circle cx="209.8" cy="64.6" r="1.9"/><circle cx="210.1" cy="65.9" r="1.9"/><circle cx="209.8" cy="66.0" r="1.9"/><circle cx="209.8" cy="66.0" r="1.9"/><circle cx="210.3" cy="62.7" r="1.9"/><circle cx="210.2" cy="66.7" r="1.9"/><circle cx="210.2" cy="64.2" r="1.9"/><circle cx="210.1" cy="67.4" r="1.9"/><circle cx="210.5" cy="62.2" r="1.9"/><circle cx="210.4" cy="63.4" r="1.9"/><circle cx="210.1" cy="63.8" r="1.9"/><circle cx="210.4" cy="62.8" r="1.9"/><circle cx="210.5" cy="66.4" r="1.9"/><circle cx="210.3" cy="62.3" r="1.9"/><circle cx="210.4" cy="62.2" r="1.9"/><circle cx="210.8" cy="64.5" r="1.9"/><circle cx="210.9" cy="63.8" r="1.9"/><circle cx="210.7" cy="62.0" r="1.9"/><circle cx="211.0" cy="64.9" r="1.9"/><circle cx="210.6" cy="66.3" r="1.9"/><circle cx="210.7" cy="64.9" r="1.9"/><circle cx="211.1" cy="64.0" r="1.9"/><circle cx="210.9" cy="65.1" r="1.9"/><circle cx="211.0" cy="66.2" r="1.9"/><circle cx="210.8" cy="62.1" r="1.9"/><circle cx="211.2" cy="64.8" r="1.9"/><circle cx="211.3" cy="65.7" r="1.9"/><circle cx="211.3" cy="62.2" r="1.9"/><circle cx="211.5" cy="64.6" r="1.9"/><circle cx="211.2" cy="62.7" r="1.9"/><circle cx="211.5" cy="64.7" r="1.9"/><circle cx="211.2" cy="63.4" r="1.9"/><circle cx="211.2" cy="66.8" r="1.9"/><circle cx="211.3" cy="61.8" r="1.9"/><circle cx="211.6" cy="61.1" r="1.9"/><circle cx="211.6" cy="62.6" r="1.9"/><circle cx="211.6" cy="62.3" r="1.9"/><circle cx="211.6" cy="62.7" r="1.9"/><circle cx="211.9" cy="63.6" r="1.9"/><circle cx="211.6" cy="64.0" r="1.9"/><circle cx="211.8" cy="64.1" r="1.9"/><circle cx="212.1" cy="62.6" r="1.9"/><circle cx="211.9" cy="60.7" r="1.9"/><circle cx="211.9" cy="62.9" r="1.9"/><circle cx="212.0" cy="66.6" r="1.9"/><circle cx="212.2" cy="64.0" r="1.9"/><circle cx="211.8" cy="66.6" r="1.9"/><circle cx="212.2" cy="63.9" r="1.9"/><circle cx="212.2" cy="62.9" r="1.9"/><circle cx="212.4" cy="62.4" r="1.9"/><circle cx="212.5" cy="64.9" r="1.9"/><circle cx="212.1" cy="63.8" r="1.9"/><circle cx="212.5" cy="63.9" r="1.9"/><circle cx="212.2" cy="64.0" r="1.9"/><circle cx="212.2" cy="64.2" r="1.9"/><circle cx="212.4" cy="65.2" r="1.9"/><circle cx="212.6" cy="63.6" r="1.9"/><circle cx="212.5" cy="62.2" r="1.9"/><circle cx="212.4" cy="64.1" r="1.9"/><circle cx="212.9" cy="61.8" r="1.9"/><circle cx="213.0" cy="62.0" r="1.9"/><circle cx="212.9" cy="60.5" r="1.9"/><circle cx="212.7" cy="63.9" r="1.9"/><circle cx="213.0" cy="63.6" r="1.9"/><circle cx="212.8" cy="61.9" r="1.9"/><circle cx="212.9" cy="66.2" r="1.9"/><circle cx="213.0" cy="60.9" r="1.9"/><circle cx="213.0" cy="61.8" r="1.9"/><circle cx="213.2" cy="62.5" r="1.9"/><circle cx="212.8" cy="64.3" r="1.9"/><circle cx="213.2" cy="66.0" r="1.9"/><circle cx="213.1" cy="65.8" r="1.9"/><circle cx="213.1" cy="62.8" r="1.9"/><circle cx="213.2" cy="63.5" r="1.9"/><circle cx="213.6" cy="66.0" r="1.9"/><circle cx="213.1" cy="65.3" r="1.9"/><circle cx="213.5" cy="60.5" r="1.9"/><circle cx="213.5" cy="65.5" r="1.9"/><circle cx="213.7" cy="61.6" r="1.9"/><circle cx="213.6" cy="63.1" r="1.9"/><circle cx="213.6" cy="64.3" r="1.9"/><circle cx="213.7" cy="62.7" r="1.9"/><circle cx="213.7" cy="60.3" r="1.9"/><circle cx="213.6" cy="63.9" r="1.9"/><circle cx="213.9" cy="65.4" r="1.9"/><circle cx="214.0" cy="60.2" r="1.9"/><circle cx="213.6" cy="61.1" r="1.9"/><circle cx="213.8" cy="62.5" r="1.9"/><circle cx="213.7" cy="63.9" r="1.9"/><circle cx="214.3" cy="65.5" r="1.9"/><circle cx="213.9" cy="61.7" r="1.9"/><circle cx="214.0" cy="61.6" r="1.9"/><circle cx="214.2" cy="61.2" r="1.9"/><circle cx="214.2" cy="64.4" r="1.9"/><circle cx="214.2" cy="65.6" r="1.9"/><circle cx="214.5" cy="63.5" r="1.9"/><circle cx="214.3" cy="64.3" r="1.9"/><circle cx="214.2" cy="63.9" r="1.9"/><circle cx="214.2" cy="64.0" r="1.9"/><circle cx="214.5" cy="62.2" r="1.9"/><circle cx="214.4" cy="61.7" r="1.9"/><circle cx="214.7" cy="64.3" r="1.9"/><circle cx="214.5" cy="62.9" r="1.9"/><circle cx="214.6" cy="60.7" r="1.9"/><circle cx="214.7" cy="63.3" r="1.9"/><circle cx="214.6" cy="64.2" r="1.9"/><circle cx="214.5" cy="63.6" r="1.9"/><circle cx="214.7" cy="62.6" r="1.9"/><circle cx="214.8" cy="63.3" r="1.9"/><circle cx="214.7" cy="61.7" r="1.9"/><circle cx="214.6" cy="63.0" r="1.9"/><circle cx="215.1" cy="63.4" r="1.9"/><circle cx="214.9" cy="63.1" r="1.9"/><circle cx="214.9" cy="64.4" r="1.9"/><circle cx="214.8" cy="62.0" r="1.9"/><circle cx="214.9" cy="61.7" r="1.9"/><circle cx="215.0" cy="62.4" r="1.9"/><circle cx="215.4" cy="62.1" r="1.9"/><circle cx="214.9" cy="64.7" r="1.9"/><circle cx="215.3" cy="63.3" r="1.9"/><circle cx="215.5" cy="62.2" r="1.9"/><circle cx="215.4" cy="62.8" r="1.9"/><circle cx="215.7" cy="64.2" r="1.9"/><circle cx="215.6" cy="63.6" r="1.9"/><circle cx="215.1" cy="61.5" r="1.9"/><circle cx="215.7" cy="62.5" r="1.9"/><circle cx="215.5" cy="59.8" r="1.9"/><circle cx="215.3" cy="61.8" r="1.9"/><circle cx="215.6" cy="62.3" r="1.9"/><circle cx="215.5" cy="63.1" r="1.9"/><circle cx="215.8" cy="62.3" r="1.9"/><circle cx="215.9" cy="62.4" r="1.9"/><circle cx="215.7" cy="61.7" r="1.9"/><circle cx="215.8" cy="61.1" r="1.9"/><circle cx="215.9" cy="61.1" r="1.9"/><circle cx="216.0" cy="61.9" r="1.9"/><circle cx="215.7" cy="63.0" r="1.9"/><circle cx="216.2" cy="60.3" r="1.9"/><circle cx="215.9" cy="61.5" r="1.9"/><circle cx="216.0" cy="63.2" r="1.9"/><circle cx="216.2" cy="64.8" r="1.9"/><circle cx="216.3" cy="63.0" r="1.9"/><circle cx="216.0" cy="61.5" r="1.9"/><circle cx="216.4" cy="64.4" r="1.9"/><circle cx="216.5" cy="62.4" r="1.9"/><circle cx="216.4" cy="62.7" r="1.9"/><circle cx="216.2" cy="62.7" r="1.9"/><circle cx="216.1" cy="61.0" r="1.9"/><circle cx="216.2" cy="60.2" r="1.9"/><circle cx="216.6" cy="61.8" r="1.9"/><circle cx="216.7" cy="62.5" r="1.9"/><circle cx="216.6" cy="62.5" r="1.9"/><circle cx="216.9" cy="61.0" r="1.9"/><circle cx="216.7" cy="62.5" r="1.9"/><circle cx="216.7" cy="60.8" r="1.9"/><circle cx="217.0" cy="63.0" r="1.9"/><circle cx="216.7" cy="62.1" r="1.9"/><circle cx="217.0" cy="59.9" r="1.9"/><circle cx="216.7" cy="61.2" r="1.9"/><circle cx="216.9" cy="61.4" r="1.9"/><circle cx="216.8" cy="64.1" r="1.9"/><circle cx="217.2" cy="62.4" r="1.9"/><circle cx="216.9" cy="63.3" r="1.9"/><circle cx="217.2" cy="61.4" r="1.9"/><circle cx="216.8" cy="62.2" r="1.9"/><circle cx="217.0" cy="59.5" r="1.9"/><circle cx="217.1" cy="62.7" r="1.9"/><circle cx="217.1" cy="61.6" r="1.9"/><circle cx="217.4" cy="61.3" r="1.9"/><circle cx="217.3" cy="62.1" r="1.9"/><circle cx="217.3" cy="63.7" r="1.9"/><circle cx="217.3" cy="62.1" r="1.9"/><circle cx="217.3" cy="61.4" r="1.9"/><circle cx="217.6" cy="63.2" r="1.9"/><circle cx="217.3" cy="61.0" r="1.9"/><circle cx="217.4" cy="62.8" r="1.9"/><circle cx="217.5" cy="61.9" r="1.9"/><circle cx="217.3" cy="63.1" r="1.9"/><circle cx="217.4" cy="61.6" r="1.9"/><circle cx="217.9" cy="61.2" r="1.9"/><circle cx="217.5" cy="64.1" r="1.9"/><circle cx="217.5" cy="64.1" r="1.9"/><circle cx="217.7" cy="62.5" r="1.9"/><circle cx="218.1" cy="63.5" r="1.9"/><circle cx="217.5" cy="59.7" r="1.9"/><circle cx="218.2" cy="62.8" r="1.9"/><circle cx="217.9" cy="64.0" r="1.9"/><circle cx="217.7" cy="61.7" r="1.9"/><circle cx="218.1" cy="63.7" r="1.9"/><circle cx="217.8" cy="62.1" r="1.9"/><circle cx="217.8" cy="61.8" r="1.9"/><circle cx="218.0" cy="60.6" r="1.9"/><circle cx="218.0" cy="61.1" r="1.9"/><circle cx="217.9" cy="62.5" r="1.9"/><circle cx="218.0" cy="59.0" r="1.9"/><circle cx="218.4" cy="61.9" r="1.9"/><circle cx="218.2" cy="61.5" r="1.9"/><circle cx="218.6" cy="62.5" r="1.9"/><circle cx="218.4" cy="60.5" r="1.9"/><circle cx="218.6" cy="59.1" r="1.9"/><circle cx="218.4" cy="61.7" r="1.9"/><circle cx="218.7" cy="63.8" r="1.9"/><circle cx="218.3" cy="60.4" r="1.9"/><circle cx="218.9" cy="60.8" r="1.9"/><circle cx="218.7" cy="59.6" r="1.9"/><circle cx="218.4" cy="59.0" r="1.9"/><circle cx="218.5" cy="63.5" r="1.9"/><circle cx="218.9" cy="63.7" r="1.9"/><circle cx="218.5" cy="58.9" r="1.9"/><circle cx="219.0" cy="59.1" r="1.9"/><circle cx="218.9" cy="62.0" r="1.9"/><circle cx="218.9" cy="60.9" r="1.9"/><circle cx="218.8" cy="63.1" r="1.9"/><circle cx="218.9" cy="60.6" r="1.9"/><circle cx="218.8" cy="60.6" r="1.9"/><circle cx="218.8" cy="63.2" r="1.9"/><circle cx="219.4" cy="60.3" r="1.9"/><circle cx="219.1" cy="60.9" r="1.9"/><circle cx="219.0" cy="61.4" r="1.9"/><circle cx="219.2" cy="62.0" r="1.9"/><circle cx="219.1" cy="60.9" r="1.9"/><circle cx="219.0" cy="61.2" r="1.9"/><circle cx="219.2" cy="61.1" r="1.9"/><circle cx="219.6" cy="58.8" r="1.9"/><circle cx="219.7" cy="61.1" r="1.9"/><circle cx="219.4" cy="61.4" r="1.9"/><circle cx="219.5" cy="62.6" r="1.9"/><circle cx="219.2" cy="63.3" r="1.9"/><circle cx="219.7" cy="61.2" r="1.9"/><circle cx="219.7" cy="61.9" r="1.9"/><circle cx="219.9" cy="59.6" r="1.9"/><circle cx="219.5" cy="61.6" r="1.9"/><circle cx="219.7" cy="59.7" r="1.9"/><circle cx="219.9" cy="61.1" r="1.9"/><circle cx="220.0" cy="60.4" r="1.9"/><circle cx="219.9" cy="61.3" r="1.9"/><circle cx="220.0" cy="60.3" r="1.9"/><circle cx="219.9" cy="59.9" r="1.9"/><circle cx="219.6" cy="62.1" r="1.9"/><circle cx="220.2" cy="60.8" r="1.9"/><circle cx="219.7" cy="60.9" r="1.9"/><circle cx="219.9" cy="62.1" r="1.9"/><circle cx="220.1" cy="58.6" r="1.9"/><circle cx="220.1" cy="62.7" r="1.9"/><circle cx="219.9" cy="61.8" r="1.9"/><circle cx="220.3" cy="60.5" r="1.9"/><circle cx="220.3" cy="59.3" r="1.9"/><circle cx="220.0" cy="61.5" r="1.9"/><circle cx="220.5" cy="63.0" r="1.9"/><circle cx="220.4" cy="62.8" r="1.9"/><circle cx="220.4" cy="59.9" r="1.9"/><circle cx="220.6" cy="61.2" r="1.9"/><circle cx="220.7" cy="61.1" r="1.9"/><circle cx="220.7" cy="61.6" r="1.9"/><circle cx="220.4" cy="61.2" r="1.9"/><circle cx="220.3" cy="59.9" r="1.9"/><circle cx="220.5" cy="58.5" r="1.9"/><circle cx="220.8" cy="62.2" r="1.9"/><circle cx="220.7" cy="60.2" r="1.9"/><circle cx="220.6" cy="62.3" r="1.9"/><circle cx="220.8" cy="59.5" r="1.9"/><circle cx="220.8" cy="61.7" r="1.9"/><circle cx="220.8" cy="59.6" r="1.9"/><circle cx="220.9" cy="62.3" r="1.9"/><circle cx="220.9" cy="60.4" r="1.9"/><circle cx="221.0" cy="60.6" r="1.9"/><circle cx="220.8" cy="62.7" r="1.9"/><circle cx="220.8" cy="61.6" r="1.9"/><circle cx="220.7" cy="61.7" r="1.9"/><circle cx="161.1" cy="97.4" r="1.9"/><circle cx="158.6" cy="97.6" r="1.9"/><circle cx="224.4" cy="59.2" r="1.9"/><circle cx="225.9" cy="57.6" r="1.9"/><circle cx="234.3" cy="55.1" r="1.9"/><circle cx="241.1" cy="52.5" r="1.9"/><circle cx="247.4" cy="53.4" r="1.9"/><circle cx="252.0" cy="54.6" r="1.9"/><circle cx="256.4" cy="50.3" r="1.9"/><circle cx="260.6" cy="50.0" r="1.9"/><circle cx="286.9" cy="47.1" r="1.9"/><circle cx="321.0" cy="42.7" r="1.9"/><circle cx="347.4" cy="40.5" r="1.9"/><circle cx="360.5" cy="41.4" r="1.9"/><circle cx="400.1" cy="37.7" r="1.9"/></g>
<path d="M93.6,190.61 L94.0,189.56 L94.5,188.27 L95.0,186.99 L95.5,185.73 L96.0,184.48 L96.5,183.24 L97.0,182.01 L97.5,180.80 L98.0,179.60 L98.5,178.42 L99.0,177.24 L99.5,176.08 L100.0,174.93 L100.5,173.79 L101.0,172.67 L101.5,171.55 L102.0,170.45 L102.5,169.36 L103.0,168.28 L103.5,167.21 L104.0,166.15 L104.5,165.10 L105.0,164.06 L105.5,163.04 L106.0,162.02 L106.5,161.01 L107.0,160.01 L107.5,159.03 L108.0,158.05 L108.5,157.08 L109.0,156.12 L109.5,155.17 L110.0,154.23 L110.5,153.30 L111.0,152.37 L111.5,151.46 L112.0,150.56 L112.5,149.66 L113.0,148.77 L113.5,147.89 L114.0,147.02 L114.5,146.16 L115.0,145.30 L115.5,144.45 L116.0,143.61 L116.5,142.78 L117.0,141.96 L117.5,141.14 L118.0,140.33 L118.5,139.53 L119.0,138.73 L119.5,137.95 L120.0,137.17 L120.5,136.39 L121.0,135.63 L121.5,134.87 L122.0,134.11 L122.5,133.37 L123.0,132.63 L123.5,131.90 L124.0,131.17 L124.5,130.45 L125.0,129.74 L125.5,129.03 L126.0,128.33 L126.5,127.63 L127.0,126.95 L127.5,126.26 L128.0,125.59 L128.5,124.91 L129.0,124.25 L129.5,123.59 L130.0,122.94 L130.5,122.29 L131.0,121.65 L131.5,121.01 L132.0,120.38 L132.5,119.75 L133.0,119.13 L133.5,118.51 L134.0,117.90 L134.5,117.30 L135.0,116.70 L135.5,116.10 L136.0,115.51 L136.5,114.93 L137.0,114.34 L137.5,113.77 L138.0,113.20 L138.5,112.63 L139.0,112.07 L139.5,111.51 L140.0,110.96 L140.5,110.41 L141.0,109.87 L141.5,109.33 L142.0,108.80 L142.5,108.27 L143.0,107.74 L143.5,107.22 L144.0,106.70 L144.5,106.19 L145.0,105.68 L145.5,105.18 L146.0,104.68 L146.5,104.18 L147.0,103.69 L147.5,103.20 L148.0,102.71 L148.5,102.23 L149.0,101.76 L149.5,101.28 L150.0,100.81 L150.5,100.35 L151.0,99.89 L151.5,99.43 L152.0,98.97 L152.5,98.52 L153.0,98.08 L153.5,97.63 L154.0,97.19 L154.5,96.75 L155.0,96.32 L155.5,95.89 L156.0,95.46 L156.5,95.04 L157.0,94.62 L157.5,94.20 L158.0,93.79 L158.5,93.38 L159.0,92.97 L159.5,92.57 L160.0,92.17 L160.5,91.77 L161.0,91.38 L161.5,90.99 L162.0,90.60 L162.5,90.21 L163.0,89.83 L163.5,89.45 L164.0,89.07 L164.5,88.70 L165.0,88.33 L165.5,87.96 L166.0,87.60 L166.5,87.23 L167.0,86.87 L167.5,86.52 L168.0,86.16 L168.5,85.81 L169.0,85.46 L169.5,85.12 L170.0,84.77 L170.5,84.43 L171.0,84.09 L171.5,83.76 L172.0,83.43 L172.5,83.10 L173.0,82.77 L173.5,82.44 L174.0,82.12 L174.5,81.80 L175.0,81.48 L175.5,81.16 L176.0,80.85 L176.5,80.54 L177.0,80.23 L177.5,79.92 L178.0,79.62 L178.5,79.32 L179.0,79.02 L179.5,78.72 L180.0,78.43 L180.5,78.13 L181.0,77.84 L181.5,77.55 L182.0,77.27 L182.5,76.98 L183.0,76.70 L183.5,76.42 L184.0,76.14 L184.5,75.87 L185.0,75.59 L185.5,75.32 L186.0,75.05 L186.5,74.79 L187.0,74.52 L187.5,74.26 L188.0,73.99 L188.5,73.73 L189.0,73.48 L189.5,73.22 L190.0,72.97 L190.5,72.71 L191.0,72.46 L191.5,72.22 L192.0,71.97 L192.5,71.72 L193.0,71.48 L193.5,71.24 L194.0,71.00 L194.5,70.76 L195.0,70.53 L195.5,70.29 L196.0,70.06 L196.5,69.83 L197.0,69.60 L197.5,69.37 L198.0,69.15 L198.5,68.92 L199.0,68.70 L199.5,68.48 L200.0,68.26 L200.5,68.04 L201.0,67.82 L201.5,67.61 L202.0,67.40 L202.5,67.19 L203.0,66.98 L203.5,66.77 L204.0,66.56 L204.5,66.36 L205.0,66.15 L205.5,65.95 L206.0,65.75 L206.5,65.55 L207.0,65.35 L207.5,65.15 L208.0,64.96 L208.5,64.77 L209.0,64.57 L209.5,64.38 L210.0,64.19 L210.5,64.00 L211.0,63.82 L211.5,63.63 L212.0,63.45 L212.5,63.27 L213.0,63.08 L213.5,62.90 L214.0,62.73 L214.5,62.55 L215.0,62.37 L215.5,62.20 L216.0,62.02 L216.5,61.85 L217.0,61.68 L217.5,61.51 L218.0,61.34 L218.5,61.17 L219.0,61.01 L219.5,60.84 L220.0,60.68 L220.5,60.51 L221.0,60.35 L221.5,60.19 L222.0,60.03 L222.5,59.87 L223.0,59.72 L223.5,59.56 L224.0,59.41 L224.5,59.25 L225.0,59.10 L225.5,58.95 L226.0,58.80 L226.5,58.65 L227.0,58.50 L227.5,58.35 L228.0,58.21 L228.5,58.06 L229.0,57.92 L229.5,57.77 L230.0,57.63 L230.5,57.49 L231.0,57.35 L231.5,57.21 L232.0,57.07 L232.5,56.94 L233.0,56.80 L233.5,56.66 L234.0,56.53 L234.5,56.40 L235.0,56.26 L235.5,56.13 L236.0,56.00 L236.5,55.87 L237.0,55.74 L237.5,55.62 L238.0,55.49 L238.5,55.36 L239.0,55.24 L239.5,55.11 L240.0,54.99 L240.5,54.87 L241.0,54.75 L241.5,54.63 L242.0,54.51 L242.5,54.39 L243.0,54.27 L243.5,54.15 L244.0,54.04 L244.5,53.92 L245.0,53.80 L245.5,53.69 L246.0,53.58 L246.5,53.46 L247.0,53.35 L247.5,53.24 L248.0,53.13 L248.5,53.02 L249.0,52.91 L249.5,52.81 L250.0,52.70 L250.5,52.59 L251.0,52.49 L251.5,52.38 L252.0,52.28 L252.5,52.17 L253.0,52.07 L253.5,51.97 L254.0,51.87 L254.5,51.77 L255.0,51.67 L255.5,51.57 L256.0,51.47 L256.5,51.37 L257.0,51.28 L257.5,51.18 L258.0,51.08 L258.5,50.99 L259.0,50.89 L259.5,50.80 L260.0,50.71 L260.5,50.61 L261.0,50.52 L261.5,50.43 L262.0,50.34 L262.5,50.25 L263.0,50.16 L263.5,50.07 L264.0,49.99 L264.5,49.90 L265.0,49.81 L265.5,49.72 L266.0,49.64 L266.5,49.55 L267.0,49.47 L267.5,49.39 L268.0,49.30 L268.5,49.22 L269.0,49.14 L269.5,49.06 L270.0,48.97 L270.5,48.89 L271.0,48.81 L271.5,48.73 L272.0,48.66 L272.5,48.58 L273.0,48.50 L273.5,48.42 L274.0,48.35 L274.5,48.27 L275.0,48.19 L275.5,48.12 L276.0,48.04 L276.5,47.97 L277.0,47.90 L277.5,47.82 L278.0,47.75 L278.5,47.68 L279.0,47.61 L279.5,47.54 L280.0,47.46 L280.5,47.39 L281.0,47.32 L281.5,47.26 L282.0,47.19 L282.5,47.12 L283.0,47.05 L283.5,46.98 L284.0,46.92 L284.5,46.85 L285.0,46.78 L285.5,46.72 L286.0,46.65 L286.5,46.59 L287.0,46.52 L287.5,46.46 L288.0,46.40 L288.5,46.33 L289.0,46.27 L289.5,46.21 L290.0,46.15 L290.5,46.09 L291.0,46.03 L291.5,45.97 L292.0,45.91 L292.5,45.85 L293.0,45.79 L293.5,45.73 L294.0,45.67 L294.5,45.61 L295.0,45.55 L295.5,45.50 L296.0,45.44 L296.5,45.38 L297.0,45.33 L297.5,45.27 L298.0,45.22 L298.5,45.16 L299.0,45.11 L299.5,45.05 L300.0,45.00 L300.5,44.95 L301.0,44.89 L301.5,44.84 L302.0,44.79 L302.5,44.73 L303.0,44.68 L303.5,44.63 L304.0,44.58 L304.5,44.53 L305.0,44.48 L305.5,44.43 L306.0,44.38 L306.5,44.33 L307.0,44.28 L307.5,44.23 L308.0,44.18 L308.5,44.14 L309.0,44.09 L309.5,44.04 L310.0,43.99 L310.5,43.95 L311.0,43.90 L311.5,43.85 L312.0,43.81 L312.5,43.76 L313.0,43.72 L313.5,43.67 L314.0,43.63 L314.5,43.58 L315.0,43.54 L315.5,43.50 L316.0,43.45 L316.5,43.41 L317.0,43.37 L317.5,43.32 L318.0,43.28 L318.5,43.24 L319.0,43.20 L319.5,43.16 L320.0,43.11 L320.5,43.07 L321.0,43.03 L321.5,42.99 L322.0,42.95 L322.5,42.91 L323.0,42.87 L323.5,42.83 L324.0,42.79 L324.5,42.75 L325.0,42.72 L325.5,42.68 L326.0,42.64 L326.5,42.60 L327.0,42.56 L327.5,42.53 L328.0,42.49 L328.5,42.45 L329.0,42.41 L329.5,42.38 L330.0,42.34 L330.5,42.31 L331.0,42.27 L331.5,42.23 L332.0,42.20 L332.5,42.16 L333.0,42.13 L333.5,42.10 L334.0,42.06 L334.5,42.03 L335.0,41.99 L335.5,41.96 L336.0,41.93 L336.5,41.89 L337.0,41.86 L337.5,41.83 L338.0,41.79 L338.5,41.76 L339.0,41.73 L339.5,41.70 L340.0,41.66 L340.5,41.63 L341.0,41.60 L341.5,41.57 L342.0,41.54 L342.5,41.51 L343.0,41.48 L343.5,41.45 L344.0,41.42 L344.5,41.39 L345.0,41.36 L345.5,41.33 L346.0,41.30 L346.5,41.27 L347.0,41.24 L347.5,41.21 L348.0,41.18 L348.5,41.15 L349.0,41.13 L349.5,41.10 L350.0,41.07 L350.5,41.04 L351.0,41.01 L351.5,40.99 L352.0,40.96 L352.5,40.93 L353.0,40.90 L353.5,40.88 L354.0,40.85 L354.5,40.82 L355.0,40.80 L355.5,40.77 L356.0,40.75 L356.5,40.72 L357.0,40.70 L357.5,40.67 L358.0,40.64 L358.5,40.62 L359.0,40.59 L359.5,40.57 L360.0,40.54 L360.5,40.52 L361.0,40.50 L361.5,40.47 L362.0,40.45 L362.5,40.42 L363.0,40.40 L363.5,40.38 L364.0,40.35 L364.5,40.33 L365.0,40.31 L365.5,40.28 L366.0,40.26 L366.5,40.24 L367.0,40.21 L367.5,40.19 L368.0,40.17 L368.5,40.15 L369.0,40.13 L369.5,40.10 L370.0,40.08 L370.5,40.06 L371.0,40.04 L371.5,40.02 L372.0,40.00 L372.5,39.97 L373.0,39.95 L373.5,39.93 L374.0,39.91 L374.5,39.89 L375.0,39.87 L375.5,39.85 L376.0,39.83 L376.5,39.81 L377.0,39.79 L377.5,39.77 L378.0,39.75 L378.5,39.73 L379.0,39.71 L379.5,39.69 L380.0,39.67 L380.5,39.65 L381.0,39.63 L381.5,39.62 L382.0,39.60 L382.5,39.58 L383.0,39.56 L383.5,39.54 L384.0,39.52 L384.5,39.50 L385.0,39.49 L385.5,39.47 L386.0,39.45 L386.5,39.43 L387.0,39.42 L387.5,39.40 L388.0,39.38 L388.5,39.36 L389.0,39.35 L389.5,39.33 L390.0,39.31 L390.5,39.29 L391.0,39.28 L391.5,39.26 L392.0,39.24 L392.5,39.23 L393.0,39.21 L393.5,39.19 L394.0,39.18 L394.5,39.16 L395.0,39.15 L395.5,39.13 L396.0,39.11 L396.5,39.10 L397.0,39.08 L397.5,39.07 L398.0,39.05 L398.5,39.04 L399.0,39.02 L399.5,39.01 L400.0,38.99 L400.5,38.98 L401.0,38.96 L401.5,38.95 L402.0,38.93 L402.5,38.92 L403.0,38.90 L403.5,38.89 L404.0,38.87 L404.5,38.86 L405.0,38.84 L405.5,38.83 L406.0,38.82 L406.5,38.80 L407.0,38.79 L407.5,38.77 L408.0,38.76 L408.5,38.75 L409.0,38.73 L409.5,38.72 L410.0,38.71 L410.5,38.69 L411.0,38.68 L411.5,38.67 L412.0,38.65 L412.5,38.64 L413.0,38.63 L413.5,38.61 L414.0,38.60 L414.5,38.59 L415.0,38.58 L415.5,38.56 L416.0,38.55 L416.5,38.54 L417.0,38.53 L417.5,38.51 L418.0,38.50 L418.5,38.49 L419.0,38.48 L419.5,38.47 L420.0,38.45 L420.5,38.44 L421.0,38.43 L421.5,38.42 L422.0,38.41 L422.5,38.39 L423.0,38.38 L423.5,38.37 L424.0,38.36 L424.5,38.35 L425.0,38.34 L425.5,38.33 L426.0,38.32 L426.5,38.30 L427.0,38.29 L427.5,38.28 L428.0,38.27 L428.5,38.26 L429.0,38.25 L429.5,38.24 L430.0,38.23 L430.5,38.22 L431.0,38.21 L431.5,38.20 L432.0,38.19 L432.5,38.18 L433.0,38.17 L433.5,38.16 L434.0,38.15" fill="none" stroke="#ff0000" stroke-width="2.4" stroke-dasharray="5.1 4.628" stroke-dashoffset="-0.15"/>
<path d="M52.5,3.5H434.5V239.4H52.5ZM60.31,239.4v-2.8M60.31,3.5v2.8M67.20,239.4v-2.8M67.20,3.5v2.8M73.02,239.4v-2.8M73.02,3.5v2.8M78.07,239.4v-2.8M78.07,3.5v2.8M82.52,239.4v-2.8M82.52,3.5v2.8M86.50,239.4v-4.1M86.50,3.5v4.1M112.69,239.4v-2.8M112.69,3.5v2.8M128.01,239.4v-2.8M128.01,3.5v2.8M138.88,239.4v-2.8M138.88,3.5v2.8M147.31,239.4v-2.8M147.31,3.5v2.8M154.20,239.4v-2.8M154.20,3.5v2.8M160.02,239.4v-2.8M160.02,3.5v2.8M165.07,239.4v-2.8M165.07,3.5v2.8M169.52,239.4v-2.8M169.52,3.5v2.8M173.50,239.4v-4.1M173.50,3.5v4.1M199.69,239.4v-2.8M199.69,3.5v2.8M215.01,239.4v-2.8M215.01,3.5v2.8M225.88,239.4v-2.8M225.88,3.5v2.8M234.31,239.4v-2.8M234.31,3.5v2.8M241.20,239.4v-2.8M241.20,3.5v2.8M247.02,239.4v-2.8M247.02,3.5v2.8M252.07,239.4v-2.8M252.07,3.5v2.8M256.52,239.4v-2.8M256.52,3.5v2.8M260.50,239.4v-4.1M260.50,3.5v4.1M286.69,239.4v-2.8M286.69,3.5v2.8M302.01,239.4v-2.8M302.01,3.5v2.8M312.88,239.4v-2.8M312.88,3.5v2.8M321.31,239.4v-2.8M321.31,3.5v2.8M328.20,239.4v-2.8M328.20,3.5v2.8M334.02,239.4v-2.8M334.02,3.5v2.8M339.07,239.4v-2.8M339.07,3.5v2.8M343.52,239.4v-2.8M343.52,3.5v2.8M347.50,239.4v-4.1M347.50,3.5v4.1M373.69,239.4v-2.8M373.69,3.5v2.8M389.01,239.4v-2.8M389.01,3.5v2.8M399.88,239.4v-2.8M399.88,3.5v2.8M408.31,239.4v-2.8M408.31,3.5v2.8M415.20,239.4v-2.8M415.20,3.5v2.8M421.02,239.4v-2.8M421.02,3.5v2.8M426.07,239.4v-2.8M426.07,3.5v2.8M430.52,239.4v-2.8M430.52,3.5v2.8M52.5,225.03h2.8M434.5,225.03h-2.8M52.5,211.01h2.8M434.5,211.01h-2.8M52.5,197.32h2.8M434.5,197.32h-2.8M52.5,183.95h4.1M434.5,183.95h-4.1M52.5,170.87h2.8M434.5,170.87h-2.8M52.5,158.09h2.8M434.5,158.09h-2.8M52.5,145.57h2.8M434.5,145.57h-2.8M52.5,133.33h4.1M434.5,133.33h-4.1M52.5,121.33h2.8M434.5,121.33h-2.8M52.5,109.57h2.8M434.5,109.57h-2.8M52.5,98.05h2.8M434.5,98.05h-2.8M52.5,86.76h4.1M434.5,86.76h-4.1M52.5,75.67h2.8M434.5,75.67h-2.8M52.5,64.80h2.8M434.5,64.80h-2.8M52.5,54.12h2.8M434.5,54.12h-2.8M52.5,43.64h4.1M434.5,43.64h-4.1M52.5,33.34h2.8M434.5,33.34h-2.8M52.5,23.22h2.8M434.5,23.22h-2.8M52.5,13.28h2.8M434.5,13.28h-2.8" fill="none" stroke="#2b2b2b" stroke-width="1"/>
<g font-family="Liberation Serif, serif" font-size="14.5" fill="#111">
<text x="28.9" y="246.7" letter-spacing="0.45">2.0</text>
<text x="28.9" y="191.2" letter-spacing="0.45">2.2</text>
<text x="28.9" y="140.6" letter-spacing="0.45">2.4</text>
<text x="28.9" y="94.1" letter-spacing="0.45">2.6</text>
<text x="28.9" y="50.9" letter-spacing="0.45">2.8</text>
<text x="28.9" y="10.8" letter-spacing="0.45">3.0</text>
<text x="78.9" y="260.7" letter-spacing="0.2">10</text>
<text x="161.9" y="260.7" letter-spacing="0.9">100</text>
<text x="243.9" y="260.7" letter-spacing="0.55">1000</text>
<text x="337.0" y="260.7" letter-spacing="0.1">10<tspan font-size="10" dy="-5.5">4</tspan></text>
<text x="243.8" y="286.3" text-anchor="middle" font-style="italic">N</text>
<g transform="translate(12.9,144.6) rotate(-90)" font-style="italic" font-size="14.2"><text x="0.2" y="0">N</text><text x="10.6" y="1.6" font-size="10">b</text><path d="M17.3,1.2 L23.9,-10" stroke="#111" stroke-width="0.9" fill="none"/><text x="25.3" y="0">N</text><text x="36.3" y="-4.7" font-size="10" font-style="normal" textLength="12.2" lengthAdjust="spacingAndGlyphs">2/3</text></g>
</g>
</svg>
</body></html>
